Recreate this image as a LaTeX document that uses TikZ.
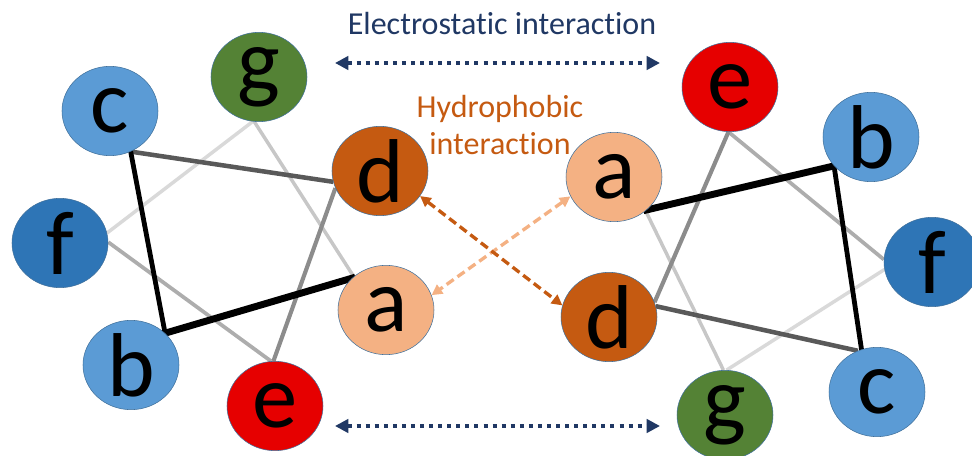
\documentclass[tikz,border=0pt]{standalone}
\usepackage{fontspec}
\setmainfont{Carlito}[Ligatures=NoCommon]
\usetikzlibrary{shapes.geometric,arrows.meta,backgrounds}

\definecolor{ballblue}{HTML}{5B9BD5}
\definecolor{balldeep}{HTML}{2E75B6}
\definecolor{ballgreen}{HTML}{548235}
\definecolor{ballred}{HTML}{E60000}
\definecolor{ballrust}{HTML}{C55A11}
\definecolor{ballpeach}{HTML}{F4B183}
\definecolor{rimblue}{HTML}{41719C}
\definecolor{navy}{HTML}{203864}

\begin{document}
\begin{tikzpicture}[x=0.75pt,y=-0.75pt,
  res/.style={ellipse, draw=rimblue, line width=0.4pt, minimum width=72pt,
    minimum height=67pt, inner sep=0pt,
    label={[font=\fontsize{68}{68}\selectfont, text=black]center:#1}},
  wab/.style={line width=5.2pt, black, line cap=rect},
  wbc/.style={line width=3.6pt, black, line cap=rect},
  wcd/.style={line width=3.4pt, black!65},
  wde/.style={line width=3.1pt, black!45},
  wef/.style={line width=2.8pt, black!32},
  wfg/.style={line width=2.6pt, black!15},
  wga/.style={line width=2.6pt, black!22},
  elec/.style={navy, line width=3pt, dash pattern=on 3pt off 3.8pt,
    {Triangle[length=10pt,width=10pt]}-{Triangle[length=10pt,width=10pt]}},
  hydro/.style={line width=2.5pt, dash pattern=on 6.5pt off 3.5pt,
    {Triangle[length=8pt,width=8pt]}-{Triangle[length=8pt,width=8pt]}},
  caption/.style={font=\fontsize{24}{28}\selectfont, anchor=base}
]
\useasboundingbox (0,0) rectangle (972,456);

% left helical wheel
\node[res=g, fill=ballgreen] (Lg) at (259,77) {};
\node[res=c, fill=ballblue]  (Lc) at (110,111) {};
\node[res=f, fill=balldeep]  (Lf) at (60,243) {};
\node[res=b, fill=ballblue]  (Lb) at (131,365) {};
\node[res=e, fill=ballred]   (Le) at (275,406) {};
\node[res=d, fill=ballrust]  (Ld) at (380,171) {};
\node[res=a, fill=ballpeach] (La) at (386,310) {};

% right helical wheel
\node[res=e, fill=ballred]   (Re) at (730,87) {};
\node[res=b, fill=ballblue]  (Rb) at (871,137) {};
\node[res=f, fill=balldeep]  (Rf) at (932,262) {};
\node[res=c, fill=ballblue]  (Rc) at (877,392) {};
\node[res=g, fill=ballgreen] (Rg) at (725,415) {};
\node[res=a, fill=ballpeach] (Ra) at (614,177) {};
\node[res=d, fill=ballrust]  (Rd) at (609,317) {};

\begin{scope}[on background layer]
  % left wheel connections, faint to strong
  \draw[wfg] (Lg.262) -- (Lf.12);
  \draw[wga] (Lg.264) -- (La.134);
  \draw[wef] (Lf.1) -- (Le.95);
  \draw[wde] (Ld.201) -- (Le.92);
  \draw[wcd] (Lc.-63) -- (Ld.193);
  \draw[wbc] (Lc.-63) -- (Lb.43);
  \draw[wab] (Lb.43) -- (La.137);
  % right wheel connections, faint to strong
  \draw[wfg] (Rg.88) -- (Rf.189);
  \draw[wga] (Ra.-47) -- (Rg.92);
  \draw[wef] (Re.268) -- (Rf.177);
  \draw[wde] (Rd.18) -- (Re.268);
  \draw[wcd] (Rd.13) -- (Rc.115);
  \draw[wbc] (Rb.218) -- (Rc.110);
  \draw[wab] (Ra.-45) -- (Rb.218);
\end{scope}

% electrostatic interactions
\node[caption, text=navy] (elText) at (502,35) {Electrostatic interaction};
\coordinate (elTopL) at (335,63);
\coordinate (elTopR) at (660,63);
\coordinate (elBotL) at (335,426);
\coordinate (elBotR) at (660,426);
\draw[elec] (elTopL) -- (elTopR);
\draw[elec] (elBotL) -- (elBotR);

% hydrophobic interactions
\node[caption, text=ballrust] (hyText1) at (500,118) {Hydrophobic};
\node[caption, text=ballrust] (hyText2) at (500,155) {interaction};
\draw[hydro, ballpeach] (Ra.204) -- (La.18);
\draw[hydro, ballrust] (Ld.-32) -- (Rd.166);
\end{tikzpicture}
\end{document}
